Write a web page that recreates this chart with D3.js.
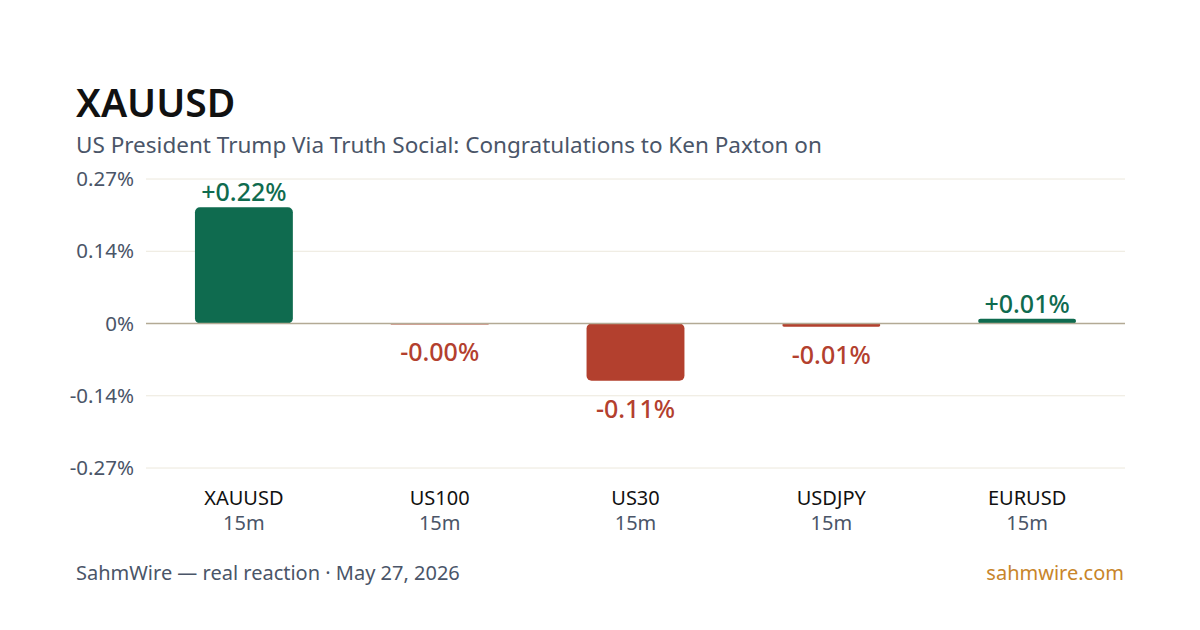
<!DOCTYPE html>
<html>
<head>
<meta charset="utf-8">
<script src="https://cdn.jsdelivr.net/npm/d3@7"></script>
<style>
  body { margin: 0; background: #fff; }
  svg { font-family: "Noto Sans", "Open Sans", sans-serif; }
</style>
</head>
<body>
<svg id="chart" width="1200" height="630"></svg>
<script>
// chart data
const symbols = ["XAUUSD", "US100", "US30", "USDJPY", "EURUSD"];
const timeframes = ["15m", "15m", "15m", "15m", "15m"];
const changes = [0.217, -0.001, -0.107, -0.006, 0.009];
const tickValues = [0.27, 0.135, 0, -0.135, -0.27];
const tickLabels = ["0.27%", "0.14%", "0%", "-0.14%", "-0.27%"];

const green = "#0f6b4f", red = "#b3402e";

// plot area
const margin = {top: 179, right: 75, bottom: 162, left: 146},
    width = 1200 - margin.left - margin.right,
    height = 630 - margin.top - margin.bottom;

const svg = d3.select("#chart");

// header
svg.append("text")
  .attr("x", 76).attr("y", 117)
  .attr("font-size", 39).attr("font-weight", 600).attr("fill", "#111")
  .text("XAUUSD");
svg.append("text")
  .attr("x", 76).attr("y", 153)
  .attr("font-size", 22.5).attr("fill", "#4a5568")
  .text("US President Trump Via Truth Social: Congratulations to Ken Paxton on");

const g = svg.append("g")
  .attr("transform", `translate(${margin.left},${margin.top})`);

const x = d3.scaleBand()
  .domain(symbols)
  .range([0, width])
  .paddingInner(0.5)
  .paddingOuter(0.25);

const y = d3.scaleLinear()
  .domain([-0.27, 0.27])
  .range([height, 0]);

// gridlines
g.append("g")
  .selectAll("line")
  .data(tickValues.filter(d => d !== 0))
  .join("line")
    .attr("x1", 0).attr("x2", width)
    .attr("y1", d => y(d)).attr("y2", d => y(d))
    .attr("stroke", "#ece8dc").attr("stroke-width", 1);

// y axis labels
const yAxis = g.append("g")
  .call(d3.axisLeft(y).tickValues(tickValues).tickFormat((d, i) => tickLabels[i]).tickSize(0).tickPadding(12));
yAxis.select(".domain").remove();
yAxis.selectAll("text")
  .attr("font-size", 20.5).attr("fill", "#4a5568")
  .attr("font-family", "'Noto Sans', 'Open Sans', sans-serif");

// bars
const rows = symbols.map((s, i) => ({sym: s, tf: timeframes[i], v: changes[i]}));

g.selectAll("rect.bar")
  .data(rows)
  .join("rect")
    .attr("class", "bar")
    .attr("x", d => x(d.sym))
    .attr("y", d => y(Math.max(0, d.v)))
    .attr("width", x.bandwidth())
    .attr("height", d => Math.max(1, Math.abs(y(d.v) - y(0))))
    .attr("rx", d => Math.min(5, Math.abs(y(d.v) - y(0)) / 2))
    .attr("fill", d => d.v >= 0 ? green : red);

// zero line
g.append("line")
  .attr("x1", 0).attr("x2", width)
  .attr("y1", y(0)).attr("y2", y(0))
  .attr("stroke", "#b3aa95").attr("stroke-width", 1.5);

// value labels
g.selectAll("text.val")
  .data(rows)
  .join("text")
    .attr("class", "val")
    .attr("x", d => x(d.sym) + x.bandwidth() / 2)
    .attr("y", d => d.v >= 0 ? y(d.v) - 6 : y(d.v) + 37)
    .attr("text-anchor", "middle")
    .attr("font-size", 25)
    .attr("font-weight", 500)
    .attr("fill", d => d.v >= 0 ? green : red)
    .text(d => (d.v >= 0 ? "+" : "-") + Math.abs(d.v).toFixed(2) + "%");

// category labels
const cat = g.selectAll("g.cat")
  .data(rows)
  .join("g")
    .attr("class", "cat")
    .attr("transform", d => `translate(${x(d.sym) + x.bandwidth() / 2},${height})`);
cat.append("text")
  .attr("y", 37).attr("text-anchor", "middle")
  .attr("font-size", 20).attr("fill", "#111")
  .text(d => d.sym);
cat.append("text")
  .attr("y", 62).attr("text-anchor", "middle")
  .attr("font-size", 20).attr("fill", "#4a5568")
  .text(d => d.tf);

// footer
svg.append("text")
  .attr("x", 76).attr("y", 580)
  .attr("font-size", 20).attr("fill", "#4a5568")
  .text("SahmWire — real reaction · May 27, 2026");
svg.append("text")
  .attr("x", 1124).attr("y", 580)
  .attr("text-anchor", "end")
  .attr("font-size", 20).attr("fill", "#c8852a")
  .text("sahmwire.com");
</script>
</body>
</html>
